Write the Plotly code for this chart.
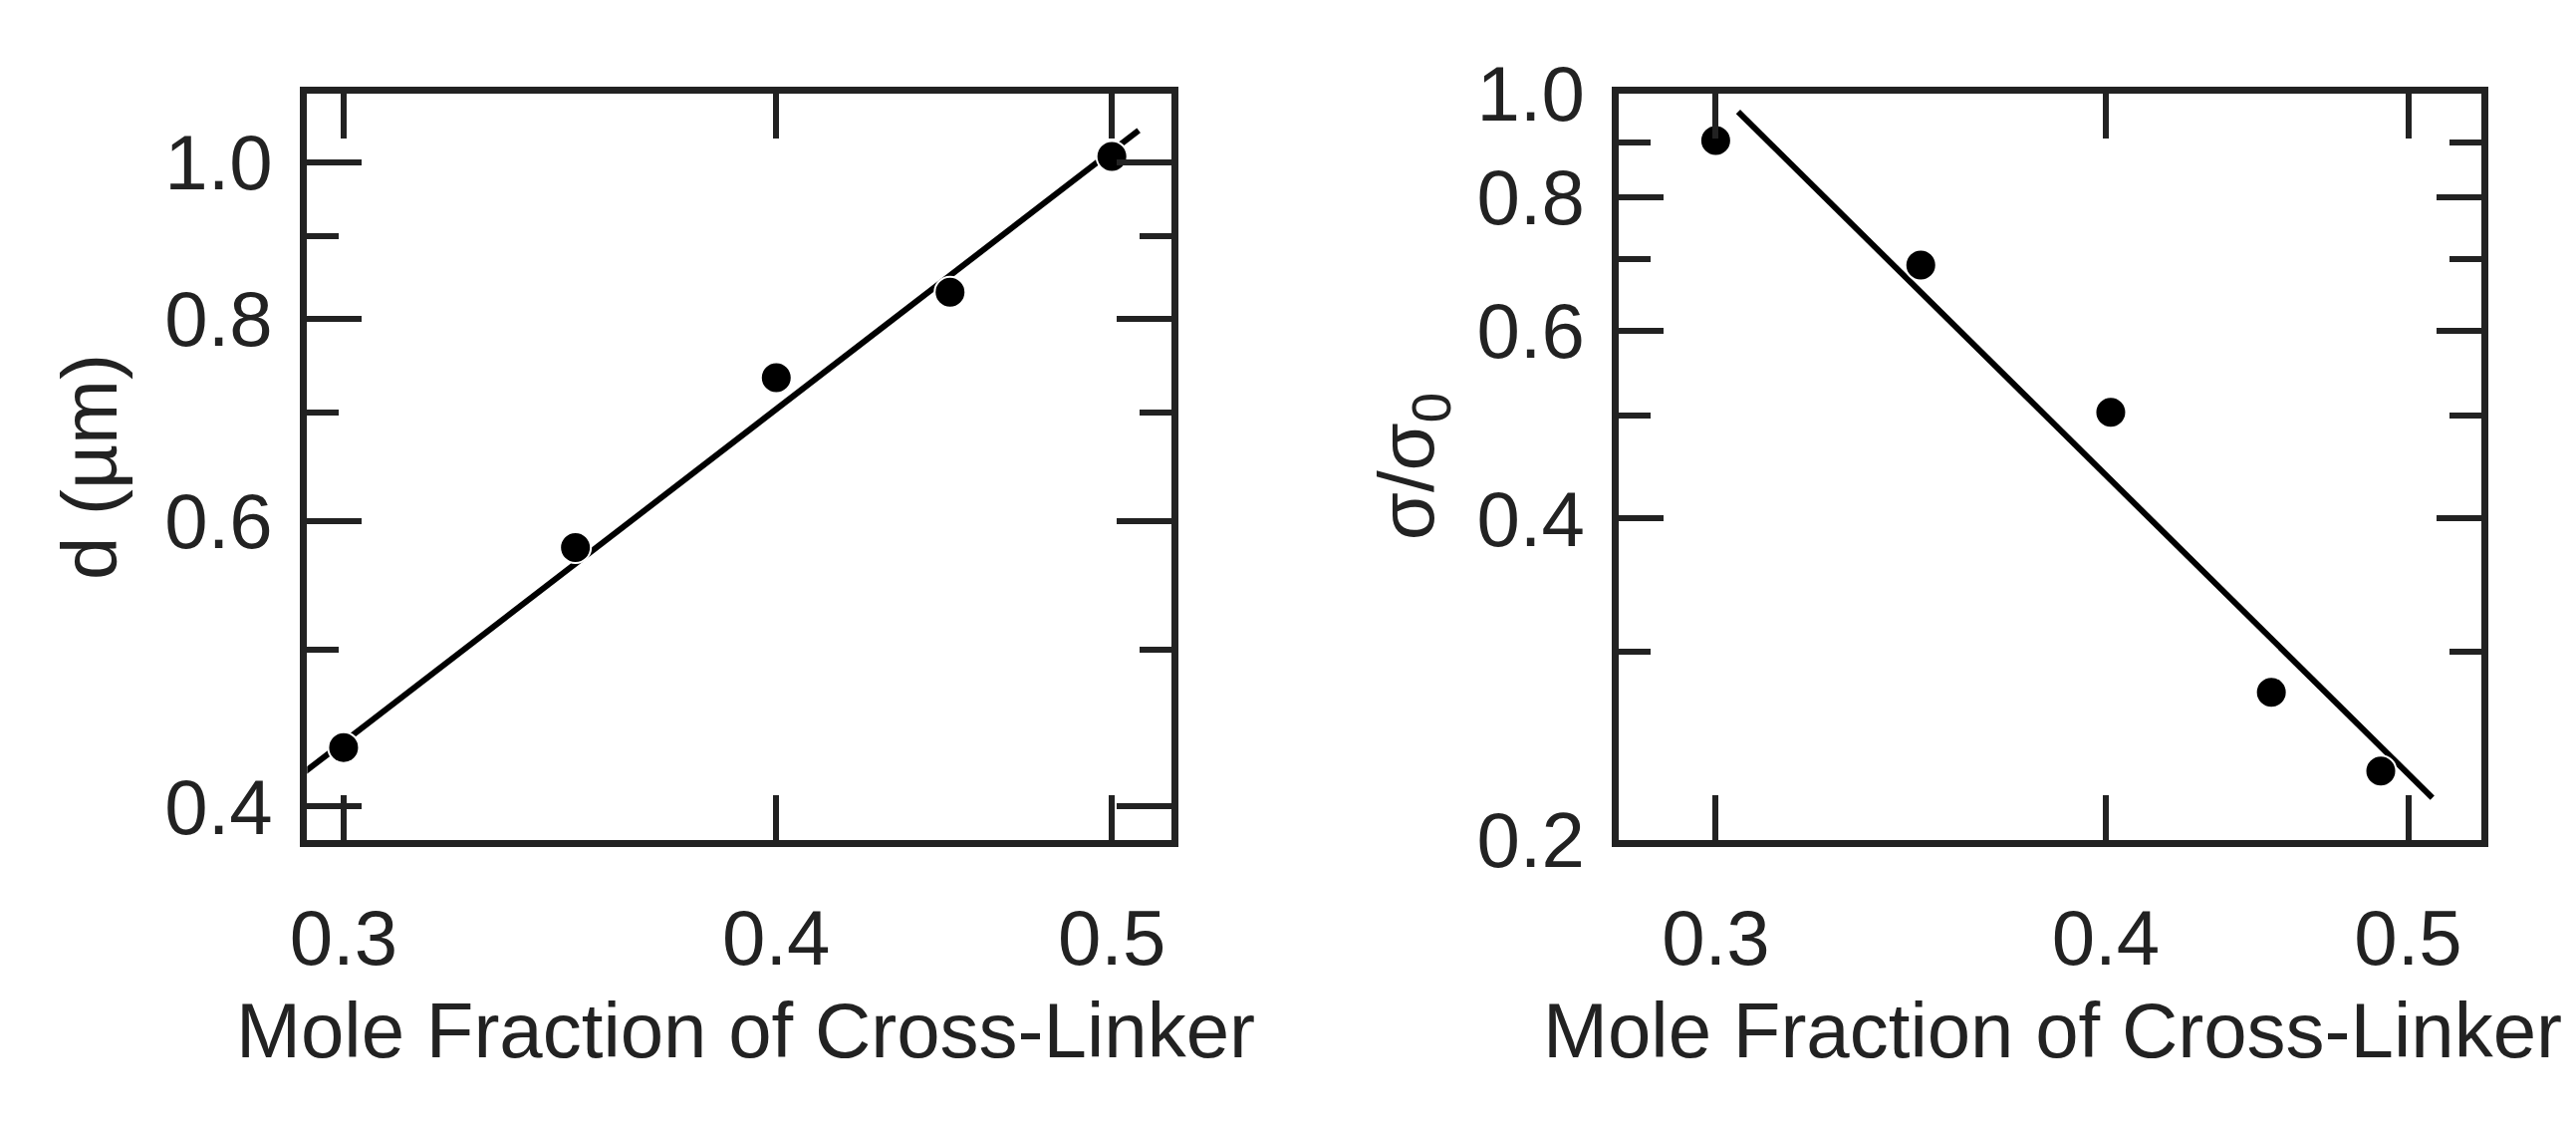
import plotly.graph_objects as go

x_left = [0.300, 0.350, 0.400, 0.449, 0.500]
d_um = [0.435, 0.578, 0.736, 0.831, 1.008]
fit_left_x = [0.2876, 0.509]
fit_left_y = [0.409, 1.046]

x_right = [0.300, 0.349, 0.4015, 0.452, 0.490]
sigma_ratio = [0.904, 0.691, 0.503, 0.275, 0.232]
fit_right_x = [0.305, 0.509]
fit_right_y = [0.962, 0.219]

x_ticks = [0.3, 0.4, 0.5]
yl_major = [0.4, 0.6, 0.8, 1.0]
yl_minor = [0.5, 0.7, 0.9]
yr_major = [0.2, 0.4, 0.6, 0.8, 1.0]
yr_minor = [0.3, 0.5, 0.7, 0.9]

FONT = "Liberation Sans, Arial, sans-serif"
fig = go.Figure()
fig.add_trace(go.Scatter(x=fit_left_x, y=fit_left_y, mode="lines", line=dict(color="black", width=6), xaxis="x", yaxis="y"))
fig.add_trace(go.Scatter(x=x_left, y=d_um, mode="markers", marker=dict(color="black", size=31, line=dict(color="white", width=2)), xaxis="x", yaxis="y"))
fig.add_trace(go.Scatter(x=fit_right_x, y=fit_right_y, mode="lines", line=dict(color="black", width=6), xaxis="x2", yaxis="y2"))
fig.add_trace(go.Scatter(x=x_right, y=sigma_ratio, mode="markers", marker=dict(color="black", size=31, line=dict(color="white", width=2)), xaxis="x2", yaxis="y2"))

common = dict(showgrid=False, zeroline=False, showline=True, linecolor="#222", linewidth=7,
              mirror="ticks", ticks="inside", tickwidth=6, tickcolor="#222",
              tickfont=dict(family=FONT, size=78, color="#222"))
fig.update_layout(
    width=2586, height=1141, showlegend=False, plot_bgcolor="white", paper_bgcolor="white",
    margin=dict(l=0, r=0, t=0, b=0),
    xaxis=dict(common, type="log", domain=[0.1103, 0.4482], range=[-0.5334, -0.2837],
               tickvals=x_ticks, ticktext=["0.3", "0.4", "0.5"], ticklen=45, anchor="y", ticklabelstandoff=25),
    yaxis=dict(common, type="log", domain=[0.249, 0.960], range=[-0.4185, 0.0421],
               tickvals=yl_major, ticktext=["0.4", "0.6", "0.8", "1.0"], ticklen=55, anchor="x", ticklabelstandoff=12,
               minor=dict(tickvals=yl_minor, ticks="inside", ticklen=32, tickwidth=6, tickcolor="#222")),
    xaxis2=dict(common, type="log", domain=[0.623, 0.960], range=[-0.5538, -0.2775],
                tickvals=x_ticks, ticktext=["0.3", "0.4", "0.5"], ticklen=45, anchor="y2", ticklabelstandoff=25),
    yaxis2=dict(common, type="log", domain=[0.249, 0.960], range=[-0.699, 0.0],
                tickvals=yr_major, ticktext=["0.2", "0.4", "0.6", "0.8", "1.0"], ticklen=45, anchor="x2", ticklabelstandoff=12,
                minor=dict(tickvals=yr_minor, ticks="inside", ticklen=32, tickwidth=6, tickcolor="#222")),
)
tf = dict(family=FONT, size=78, color="#222")
fig.add_annotation(text="Mole Fraction of Cross-Linker", x=0.2815, y=1 - 1064/1141, xref="paper", yref="paper",
                   xanchor="center", yanchor="middle", showarrow=False, font=tf)
fig.add_annotation(text="Mole Fraction of Cross-Linker", x=0.7925, y=1 - 1064/1141, xref="paper", yref="paper",
                   xanchor="center", yanchor="middle", showarrow=False, font=tf)
fig.add_annotation(text="d (µm)", x=66/2586, y=0.6045, xref="paper", yref="paper", xanchor="center", yanchor="middle",
                   showarrow=False, textangle=-90, font=tf)
fig.add_annotation(text="σ/σ<sub>0</sub>", x=1402/2586, y=0.6045, xref="paper", yref="paper", xanchor="center", yanchor="middle",
                   showarrow=False, textangle=-90, font=tf)
fig.write_html("out.html")
